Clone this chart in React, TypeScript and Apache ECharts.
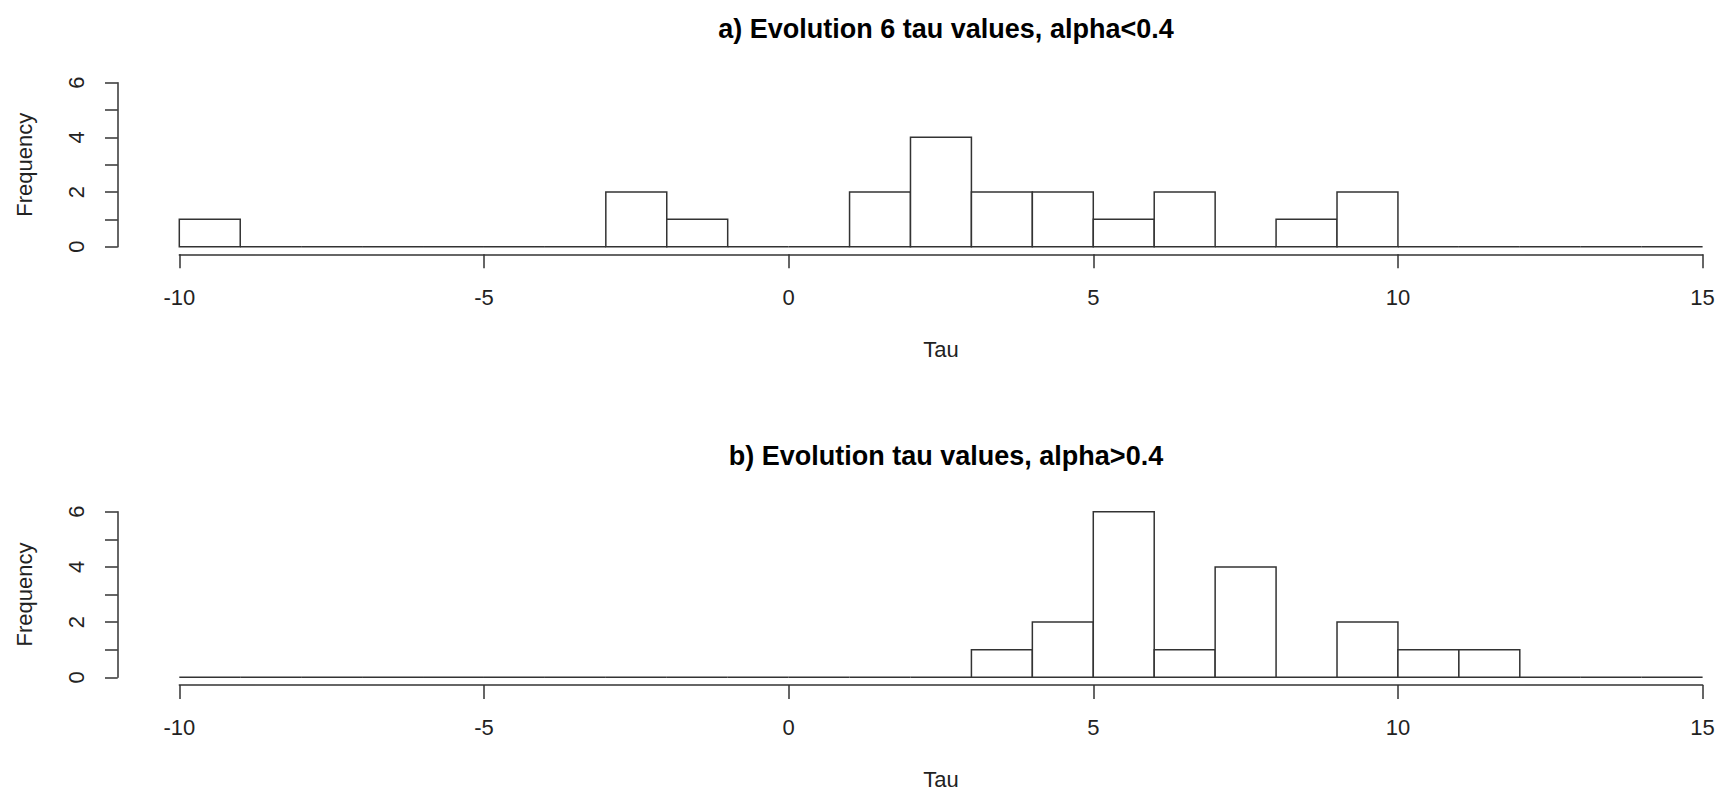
import React, { useEffect, useRef } from "react";
import * as echarts from "echarts";

// Histogram bins: unit-wide bins from -10 to 15
const binStarts = [-10, -9, -8, -7, -6, -5, -4, -3, -2, -1, 0, 1, 2, 3, 4, 5, 6, 7, 8, 9, 10, 11, 12, 13, 14];
const binWidth = 1;

// a) alpha < 0.4
const countsA = [1, 0, 0, 0, 0, 0, 0, 2, 1, 0, 0, 2, 4, 2, 2, 1, 2, 0, 1, 2, 0, 0, 0, 0, 0];
// b) alpha > 0.4
const countsB = [0, 0, 0, 0, 0, 0, 0, 0, 0, 0, 0, 0, 0, 1, 2, 6, 1, 4, 0, 2, 1, 1, 0, 0, 0];

const titleA = "a) Evolution 6 tau values, alpha<0.4";
const titleB = "b) Evolution tau values, alpha>0.4";
const xName = "Tau";
const yName = "Frequency";

const FONT = "'Liberation Sans', Arial, sans-serif";
const INK = "#333";

function binData(counts: number[]) {
  return binStarts.map((lo, i) => [lo, lo + binWidth, counts[i]]);
}

function renderBin(_params: any, api: any) {
  const lo = api.value(0);
  const hi = api.value(1);
  const n = api.value(2);
  const topLeft = api.coord([lo, n]);
  const bottomRight = api.coord([hi, 0]);
  return {
    type: "rect",
    shape: {
      x: topLeft[0],
      y: topLeft[1],
      width: bottomRight[0] - topLeft[0],
      height: bottomRight[1] - topLeft[1],
    },
    style: { fill: "#ffffff", stroke: INK, lineWidth: 1.5 },
  };
}

function xAxisFor(gridIndex: number) {
  return {
    type: "value",
    gridIndex,
    min: -10,
    max: 15,
    interval: 5,
    position: "bottom",
    offset: 7.6,
    name: xName,
    nameLocation: "middle",
    nameGap: 84,
    nameTextStyle: { fontFamily: FONT, fontSize: 22, color: "#222" },
    axisLine: { show: true, onZero: false, lineStyle: { color: INK, width: 1.5 } },
    axisTick: { show: true, length: 14, lineStyle: { color: INK, width: 1.5 } },
    axisLabel: { margin: 32, fontFamily: FONT, fontSize: 22, color: "#222" },
    splitLine: { show: false },
  };
}

function yAxisFor(gridIndex: number) {
  return {
    type: "value",
    gridIndex,
    min: 0,
    max: 6,
    interval: 1,
    position: "left",
    offset: 61.6,
    name: yName,
    nameLocation: "middle",
    nameGap: 82,
    nameTextStyle: { fontFamily: FONT, fontSize: 22, color: "#222" },
    axisLine: { show: true, onZero: false, lineStyle: { color: INK, width: 1.5 } },
    axisTick: { show: true, length: 12.7, lineStyle: { color: INK, width: 1.5 } },
    axisLabel: {
      rotate: 90,
      margin: 30,
      fontFamily: FONT,
      fontSize: 22,
      color: "#222",
      formatter: (v: number) => (v % 2 === 0 ? String(v) : ""),
    },
    splitLine: { show: false },
  };
}

export default function App() {
  const ref = useRef<HTMLDivElement>(null);

  useEffect(() => {
    if (!ref.current) return;
    const chart = echarts.init(ref.current, undefined, { renderer: "svg" });
    chart.setOption({
      animation: false,
      backgroundColor: "#ffffff",
      title: [
        {
          text: titleA,
          left: 941,
          top: 10,
          textAlign: "center",
          textStyle: { fontFamily: FONT, fontSize: 27, fontWeight: "bold", color: "#000" },
        },
        {
          text: titleB,
          left: 941,
          top: 437,
          textAlign: "center",
          textStyle: { fontFamily: FONT, fontSize: 27, fontWeight: "bold", color: "#000" },
        },
      ],
      grid: [
        { left: 179.3, top: 82.7, width: 1523.3, height: 164, containLabel: false },
        { left: 179.3, top: 511.7, width: 1523.3, height: 165.6, containLabel: false },
      ],
      xAxis: [xAxisFor(0), xAxisFor(1)],
      yAxis: [yAxisFor(0), yAxisFor(1)],
      series: [
        {
          type: "custom",
          xAxisIndex: 0,
          yAxisIndex: 0,
          clip: false,
          renderItem: renderBin,
          encode: { x: [0, 1], y: 2 },
          data: binData(countsA),
        },
        {
          type: "custom",
          xAxisIndex: 1,
          yAxisIndex: 1,
          clip: false,
          renderItem: renderBin,
          encode: { x: [0, 1], y: 2 },
          data: binData(countsB),
        },
      ],
    });
    return () => chart.dispose();
  }, []);

  return (
    <div
      ref={ref}
      style={{ position: "absolute", left: 0, top: 0, width: 1725, height: 796, background: "#fff" }}
    />
  );
}
